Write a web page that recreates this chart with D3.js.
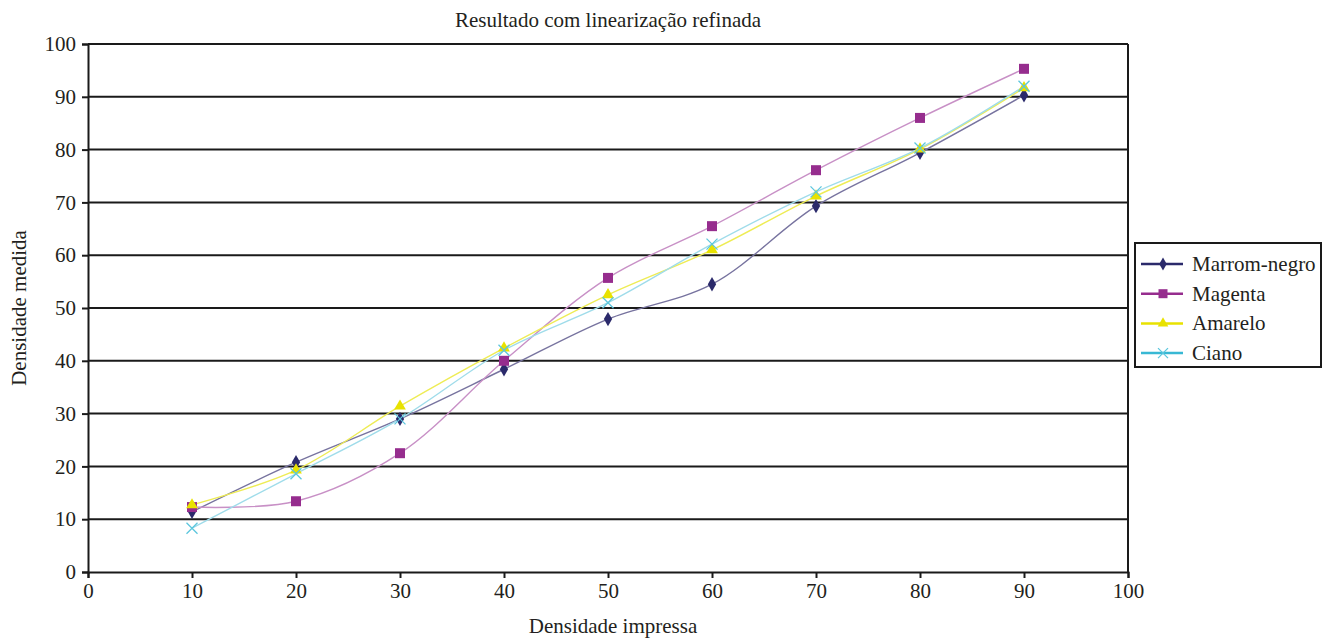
<!DOCTYPE html>
<html>
<head>
<meta charset="utf-8">
<script src="https://cdn.jsdelivr.net/npm/d3@7"></script>
<style>
  body { margin: 0; background: #fff; }
  text { font-family: "Liberation Serif", "DejaVu Serif", serif; fill: #231f20; }
</style>
</head>
<body>
<script>
// values
var xs = [10, 20, 30, 40, 50, 60, 70, 80, 90];
var marromNegro = [11.4, 20.8, 29.0, 38.4, 47.9, 54.5, 69.3, 79.4, 90.3];
var magenta = [12.3, 13.4, 22.5, 40.0, 55.7, 65.5, 76.1, 86.0, 95.3];
var amarelo = [12.7, 19.3, 31.4, 42.4, 52.5, 61.0, 71.2, 80.1, 91.7];
var ciano = [8.3, 18.6, 29.0, 42.0, 51.0, 62.1, 72.0, 80.3, 92.0];
var tickVals = [0, 10, 20, 30, 40, 50, 60, 70, 80, 90, 100];

var series = [
  {name: "Marrom-negro", vals: marromNegro, line: "#77739f", mark: "#2b2a6b", leg: "#2b2a6b", sym: d3.symbolDiamond},
  {name: "Magenta", vals: magenta, line: "#c890c6", mark: "#962d8e", leg: "#962d8e", sym: d3.symbolSquare},
  {name: "Amarelo", vals: amarelo, line: "#eeec55", mark: "#e8e200", leg: "#e8e200", sym: d3.symbolTriangle},
  {name: "Ciano", vals: ciano, line: "#9fdcea", mark: "#5cc6dd", leg: "#38b8d4", sym: "x"}
];

var W = 1322, H = 639;
var pLeft = 88, pRight = 1128, pTop = 44, pBottom = 572;

var svg = d3.select("body").append("svg")
    .attr("width", W)
    .attr("height", H);

var x = d3.scaleLinear().domain([0, 100]).range([pLeft, pRight]);
var y = d3.scaleLinear().domain([0, 100]).range([pBottom, pTop]);

// grid lines
svg.append("g").selectAll("line")
  .data(tickVals.slice(1))
  .join("line")
    .attr("x1", pLeft).attr("x2", pRight)
    .attr("y1", d => y(d)).attr("y2", d => y(d))
    .attr("stroke", "#1a1a1a")
    .attr("stroke-width", 2);

// right border
svg.append("line")
    .attr("x1", pRight).attr("x2", pRight)
    .attr("y1", pTop).attr("y2", pBottom)
    .attr("stroke", "#1a1a1a").attr("stroke-width", 2);

var xAxis = svg.append("g")
    .attr("transform", "translate(0," + pBottom + ")")
    .call(d3.axisBottom(x).tickValues(tickVals).tickSize(6).tickPadding(5));
var yAxis = svg.append("g")
    .attr("transform", "translate(" + pLeft + ",0)")
    .call(d3.axisLeft(y).tickValues(tickVals).tickSize(6).tickPadding(6));

[xAxis, yAxis].forEach(function(a) {
  a.select(".domain").attr("stroke", "#1a1a1a").attr("stroke-width", 2);
  a.selectAll(".tick line").attr("stroke", "#1a1a1a").attr("stroke-width", 2);
  a.selectAll(".tick text")
    .style("font-family", '"Liberation Serif", serif')
    .style("font-size", "21px")
    .attr("fill", "#231f20");
});

// titles
svg.append("text")
    .attr("x", 608).attr("y", 27)
    .attr("text-anchor", "middle")
    .style("font-size", "21px")
    .text("Resultado com linearização refinada");

svg.append("text")
    .attr("x", 613).attr("y", 633)
    .attr("text-anchor", "middle")
    .style("font-size", "21px")
    .text("Densidade impressa");

svg.append("text")
    .attr("transform", "translate(26,308) rotate(-90)")
    .attr("text-anchor", "middle")
    .style("font-size", "21px")
    .text("Densidade medida");

var line = d3.line()
    .x(d => x(d[0]))
    .y(d => y(d[1]))
    .curve(d3.curveCatmullRom.alpha(0.5));

function drawMark(g, s, cx, cy, size) {
  if (s.sym === "x") {
    var r = size / 2;
    g.append("path")
      .attr("d", "M" + (cx - r) + "," + (cy - r) + "L" + (cx + r) + "," + (cy + r) +
                 "M" + (cx - r) + "," + (cy + r) + "L" + (cx + r) + "," + (cy - r))
      .attr("stroke", s.mark).attr("stroke-width", 1.3).attr("fill", "none");
  } else {
    var area = s.sym === d3.symbolSquare ? size * size : size * size * 0.6;
    g.append("path")
      .attr("d", d3.symbol().type(s.sym).size(area)())
      .attr("transform", "translate(" + cx + "," + cy + ")")
      .attr("fill", s.mark);
  }
}

series.forEach(function(s) {
  var pts = xs.map((v, i) => [v, s.vals[i]]);
  svg.append("path")
    .datum(pts)
    .attr("d", line)
    .attr("fill", "none")
    .attr("stroke", s.line)
    .attr("stroke-width", 1.4);
});

series.forEach(function(s) {
  var g = svg.append("g");
  xs.forEach(function(v, i) {
    drawMark(g, s, x(v), y(s.vals[i]), s.sym === "x" ? 11 : 10);
  });
});

// legend
var lg = svg.append("g").attr("transform", "translate(1135,243)");
lg.append("rect")
    .attr("width", 186).attr("height", 124)
    .attr("fill", "#fff")
    .attr("stroke", "#1a1a1a").attr("stroke-width", 2);

series.forEach(function(s, i) {
  var cy = 21 + i * 29.7;
  lg.append("line")
    .attr("x1", 6).attr("x2", 48)
    .attr("y1", cy).attr("y2", cy)
    .attr("stroke", s.leg).attr("stroke-width", 2.5);
  drawMark(lg, s, 28, cy, s.sym === "x" ? 10 : 9);
  lg.append("text")
    .attr("x", 57).attr("y", cy + 7)
    .style("font-size", "21px")
    .text(s.name);
});
</script>
</body>
</html>
